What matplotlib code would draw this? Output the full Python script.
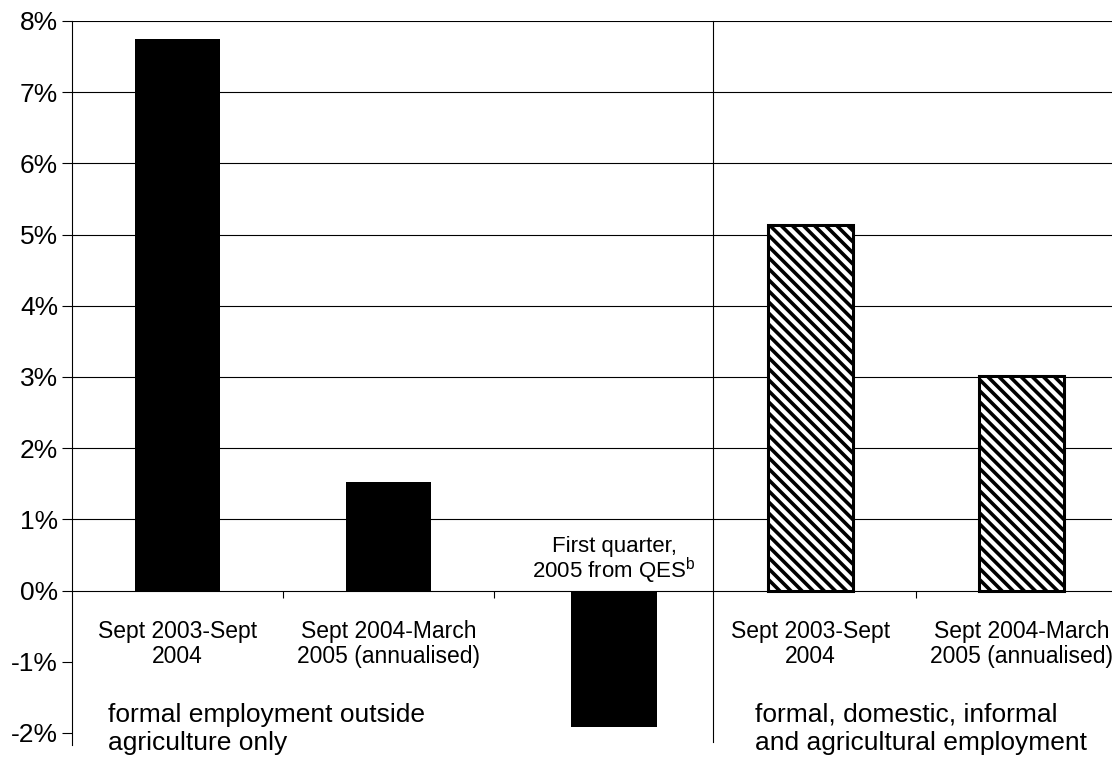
import matplotlib
matplotlib.use('Agg')
import matplotlib.pyplot as plt
import numpy as np

plt.rcParams['font.family'] = ['Liberation Sans', 'DejaVu Sans']
plt.rcParams['mathtext.fontset'] = 'custom'
plt.rcParams['mathtext.rm'] = 'Liberation Sans'
plt.rcParams['hatch.linewidth'] = 2.6

# employment growth, % per year
labels = ['Sept 2003-Sept\n2004', 'Sept 2004-March\n2005 (annualised)', '',
          'Sept 2003-Sept\n2004', 'Sept 2004-March\n2005 (annualised)']
growth = [7.75, 1.53, -1.92, 5.14, 3.02]
hatched = [False, False, False, True, True]
qes_note = 'First quarter,\n2005 from QES$^{\\mathrm{b}}$'
group_left = 'formal employment outside\nagriculture only'
group_right = 'formal, domestic, informal\nand agricultural employment'

x = np.arange(len(growth), dtype=float)
x[2] += 0.07  # QES bar sits a bit right of its slot

fig = plt.figure(figsize=(11.12, 7.60), dpi=100)
ax = fig.add_axes([72 / 1112, 15 / 760, 1 - 72 / 1112, 1 - 15 / 760 - 21 / 760])

for v in range(1, 9):
    ax.axhline(v, color='black', lw=0.8, zorder=0)

for xi, g, h in zip(x, growth, hatched):
    if h:
        ax.bar(xi, g, width=0.405, facecolor='white', edgecolor='black',
               hatch='\\\\\\', linewidth=2.2, zorder=2)
    else:
        ax.bar(xi, g, width=0.405, color='black', linewidth=0, zorder=2)

# divider between the two employment measures
ax.plot([2.54, 2.54], [-2.13, 8], color='black', lw=0.8, clip_on=False)

ax.set_xlim(-0.5, 4.43)
ax.set_ylim(-2.17, 8)
ax.set_yticks(range(-2, 9))
ax.set_yticklabels([f'{v}%' for v in range(-2, 9)], fontsize=19)
ax.tick_params(axis='y', direction='out', length=7, width=0.8, pad=3)
ax.set_xticks([0.5, 1.5, 3.5])
ax.set_xticklabels([])
ax.tick_params(axis='x', direction='out', length=5, width=0.8)

ax.spines['top'].set_visible(False)
ax.spines['right'].set_visible(False)
ax.spines['bottom'].set_position(('data', 0))
ax.spines['left'].set_linewidth(0.8)
ax.spines['bottom'].set_linewidth(0.8)

for xi, lab in zip(x, labels):
    if lab:
        ax.text(xi, -0.41, lab, ha='center', va='top', fontsize=16.5,
                linespacing=1.15, clip_on=False)

ax.text(x[2], 0.06, qes_note, ha='center', va='bottom', fontsize=16,
        linespacing=0.95)
ax.text(-0.33, -1.575, group_left, ha='left', va='top', fontsize=19,
        linespacing=1.24, clip_on=False)
ax.text(2.74, -1.575, group_right, ha='left', va='top', fontsize=19,
        linespacing=1.24, clip_on=False)

fig.savefig('out.png', dpi=100)
